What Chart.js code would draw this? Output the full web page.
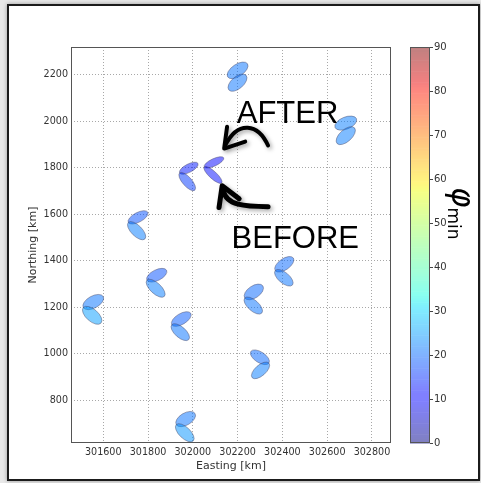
<!DOCTYPE html>
<html lang="en">
<head>
<meta charset="UTF-8">
<title>Splitting parameters map</title>
<script src="https://cdn.jsdelivr.net/npm/chart.js"></script>
<style>
    body {
        margin: 0;
        width: 481px;
        height: 483px;
        overflow: hidden;
        position: relative;
        background: #e8e8e8;
        font-family: 'DejaVu Sans', sans-serif;
    }

    #frame {
        position: absolute;
        left: 7px;
        top: 4px;
        width: 469px;
        height: 473px;
        border: 2px solid #1b1b1b;
        background: #fff;
        box-shadow: 0 0 4px rgba(0, 0, 0, 0.35);
    }

    #mapChart { position: absolute; left: 0; top: 0; }
    #barChart { position: absolute; left: 400px; top: 0; }

    #cbLabel {
        position: absolute;
        left: 478px;
        top: 187px;
        transform: rotate(90deg);
        transform-origin: 0 0;
        font-size: 31px;
        line-height: 30px;
        font-style: italic;
        white-space: nowrap;
        color: #000;
    }

    #cbLabel sub {
        font-size: 17px;
        line-height: 0;
        vertical-align: -4px;
        font-style: normal;
    }
</style>
</head>
<body>
<div id="frame"></div>
<canvas id="mapChart" width="400" height="483"></canvas>
<canvas id="barChart" width="81" height="483"></canvas>
<div id="cbLabel">φ<sub>min</sub></div>

<script>
    // each lobe runs from (E0,N0) to (E1,N1), widths in km, colour from phi
    const lobeE0 = [302156, 302161, 302635, 302644, 301941, 301941, 302051, 302051,
                    301712, 301712, 301795, 301795, 301511, 301511, 301906, 301906,
                    302232, 302232, 302368, 302368, 302340, 302340, 301926, 301926];
    const lobeN0 = [2190, 2134, 1973, 1904, 1777, 1777, 1803, 1803,
                    1564, 1564, 1316, 1316, 1198, 1198, 1124, 1124,
                    1239, 1239, 1357, 1357, 959, 959, 694, 694];
    const lobeE1 = [302244, 302238, 302731, 302722, 302023, 302009, 302138, 302129,
                    301799, 301786, 301883, 301873, 301600, 301590, 301991, 301982,
                    302313, 302308, 302449, 302445, 302259, 302265, 302010, 302002];
    const lobeN1 = [2247, 2197, 2010, 1971, 1818, 1703, 1842, 1734,
                    1608, 1493, 1358, 1246, 1245, 1131, 1173, 1060,
                    1291, 1174, 1411, 1295, 1009, 896, 742, 624];
    const lobeWidth = [54, 54, 54, 54, 37, 41, 33, 33,
                       43, 48, 48, 48, 54, 54, 48, 48,
                       54, 48, 50, 48, 48, 48, 54, 50];
    const lobePhi = [21, 21, 22, 22, 13, 16, 11, 12,
                     18, 22, 18, 22, 21, 25, 19, 21,
                     20, 21, 20, 21, 20, 22, 21, 24];

    const eastRange = [301456, 302885];
    const northRange = [615, 2319];
    const phiRange = [0, 90];
    const eastTicks = [301600, 301800, 302000, 302200, 302400, 302600, 302800];
    const northTicks = [800, 1000, 1200, 1400, 1600, 1800, 2000, 2200];
    const phiTicks = [0, 10, 20, 30, 40, 50, 60, 70, 80, 90];

    // annotation arrows: cubic curve (start, c1, c2, end) and head (arm, tip, arm)
    const afterCurveE = [302336, 302292, 302202, 302144];
    const afterCurveN = [1895, 1989, 2006, 1895];
    const afterHeadE = [302153, 302140, 302234];
    const afterHeadN = [1976, 1882, 1912];
    const beforeCurveE = [302336, 302234, 302149, 302135];
    const beforeCurveN = [1632, 1632, 1636, 1704];
    const beforeHeadE = [302117, 302131, 302207];
    const beforeHeadN = [1628, 1722, 1666];
    const labelText = ['AFTER', 'BEFORE'];
    const labelE = [302196, 302173];
    const labelN = [1993, 1455];

    // matplotlib jet segments
    const jetR = [[0, 0], [0.35, 0], [0.66, 1], [0.89, 1], [1, 0.5]];
    const jetG = [[0, 0], [0.125, 0], [0.375, 1], [0.64, 1], [0.91, 0], [1, 0]];
    const jetB = [[0, 0.5], [0.11, 1], [0.34, 1], [0.65, 0], [1, 0]];

    function seg(table, t) {
        for (let i = 1; i < table.length; i++) {
            if (t <= table[i][0]) {
                const a = table[i - 1], b = table[i];
                return a[1] + (b[1] - a[1]) * (t - a[0]) / (b[0] - a[0]);
            }
        }
        return table[table.length - 1][1];
    }

    function jet(t) {
        t = Math.max(0, Math.min(1, t));
        return [seg(jetR, t), seg(jetG, t), seg(jetB, t)].map(v => Math.round(v * 255));
    }

    function jetRgba(t, a) {
        const c = jet(t);
        return 'rgba(' + c[0] + ',' + c[1] + ',' + c[2] + ',' + a + ')';
    }

    // same colour pre-blended on white (for the colorbar strips)
    function jetOnWhite(t, a) {
        const c = jet(t).map(v => Math.round(v * a + 255 * (1 - a)));
        return 'rgb(' + c[0] + ',' + c[1] + ',' + c[2] + ')';
    }

    function fixedTicks(values) {
        return s => { s.ticks = values.map(v => ({value: v})); };
    }

    const lobePlugin = {
        id: 'lobes',
        beforeDatasetsDraw(chart) {
            const {ctx, chartArea: a, scales: {x, y}} = chart;
            ctx.save();
            ctx.beginPath();
            ctx.rect(a.left, a.top, a.width, a.height);
            ctx.clip();
            for (let i = 0; i < lobePhi.length; i++) {
                const x0 = x.getPixelForValue(lobeE0[i]), y0 = y.getPixelForValue(lobeN0[i]);
                const x1 = x.getPixelForValue(lobeE1[i]), y1 = y.getPixelForValue(lobeN1[i]);
                const len = Math.hypot(x1 - x0, y1 - y0);
                const w = x.getPixelForValue(eastRange[0] + lobeWidth[i]) - x.getPixelForValue(eastRange[0]);
                ctx.beginPath();
                ctx.ellipse((x0 + x1) / 2, (y0 + y1) / 2, len / 2, w / 2, Math.atan2(y1 - y0, x1 - x0), 0, Math.PI * 2);
                ctx.fillStyle = jetRgba(lobePhi[i] / phiRange[1], 0.5);
                ctx.fill();
                ctx.lineWidth = 1;
                ctx.strokeStyle = 'rgba(70,70,100,0.45)';
                ctx.stroke();
            }
            ctx.restore();
        },
        afterDatasetsDraw(chart) {
            const {ctx, chartArea: a, scales: {x, y}} = chart;
            ctx.save();
            ctx.strokeStyle = '#555';
            ctx.lineWidth = 1;
            ctx.strokeRect(a.left + 0.5, a.top + 0.5, a.width - 1, a.height - 1);

            const px = v => x.getPixelForValue(v);
            const py = v => y.getPixelForValue(v);

            ctx.shadowColor = 'rgba(0,0,0,0.35)';
            ctx.shadowBlur = 4;
            ctx.shadowOffsetX = 2;
            ctx.shadowOffsetY = 2;
            ctx.strokeStyle = '#000';
            ctx.fillStyle = '#000';
            ctx.lineCap = 'round';
            ctx.lineJoin = 'round';

            const arrows = [
                [afterCurveE, afterCurveN, afterHeadE, afterHeadN, 4],
                [beforeCurveE, beforeCurveN, beforeHeadE, beforeHeadN, 5]
            ];
            arrows.forEach(([cE, cN, hE, hN, lw]) => {
                ctx.lineWidth = lw;
                ctx.beginPath();
                ctx.moveTo(px(cE[0]), py(cN[0]));
                ctx.bezierCurveTo(px(cE[1]), py(cN[1]), px(cE[2]), py(cN[2]), px(cE[3]), py(cN[3]));
                ctx.stroke();
                ctx.beginPath();
                ctx.moveTo(px(hE[0]), py(hN[0]));
                ctx.lineTo(px(hE[1]), py(hN[1]));
                ctx.lineTo(px(hE[2]), py(hN[2]));
                ctx.stroke();
            });

            ctx.shadowColor = 'transparent';
            ctx.font = '31px "Liberation Sans", Arial, sans-serif';
            ctx.textAlign = 'left';
            ctx.textBaseline = 'alphabetic';
            labelText.forEach((t, i) => ctx.fillText(t, px(labelE[i]), py(labelN[i])));
            ctx.restore();
        }
    };

    const tickFont = {family: 'DejaVu Sans', size: 9.6};
    const titleFont = {family: 'DejaVu Sans', size: 11};

    new Chart(document.getElementById('mapChart'), {
        type: 'scatter',
        data: {datasets: []},
        plugins: [lobePlugin],
        options: {
            responsive: false,
            animation: false,
            layout: {padding: {left: 0, top: 47, right: 9, bottom: 0}},
            plugins: {legend: {display: false}, tooltip: {enabled: false}},
            scales: {
                x: {
                    type: 'linear',
                    min: eastRange[0],
                    max: eastRange[1],
                    afterBuildTicks: fixedTicks(eastTicks),
                    afterFit: s => { s.height = 40; },
                    ticks: {
                        autoSkip: false,
                        maxRotation: 0,
                        padding: 4,
                        color: '#333',
                        font: tickFont,
                        callback: v => String(v)
                    },
                    grid: {color: '#a8a8a8', drawTicks: false},
                    border: {display: false, dash: [1, 2]},
                    title: {display: true, text: 'Easting [km]', color: '#333', font: titleFont, padding: {top: 0, bottom: 10}}
                },
                y: {
                    type: 'linear',
                    min: northRange[0],
                    max: northRange[1],
                    afterBuildTicks: fixedTicks(northTicks),
                    afterFit: s => { s.width = 71; },
                    ticks: {
                        autoSkip: false,
                        padding: 3,
                        color: '#333',
                        font: tickFont,
                        callback: v => String(v)
                    },
                    grid: {color: '#a8a8a8', drawTicks: false},
                    border: {display: false, dash: [1, 2]},
                    title: {display: true, text: 'Northing [km]', color: '#333', font: titleFont, padding: {top: 27, bottom: 0}}
                }
            }
        }
    });

    // colorbar for phi_min
    const barPlugin = {
        id: 'phiBar',
        beforeDatasetsDraw(chart) {
            const {ctx, chartArea: a, scales: {y}} = chart;
            const step = 0.5;
            ctx.save();
            for (let v = phiRange[0]; v < phiRange[1]; v += step) {
                const top = y.getPixelForValue(v + step);
                const bot = y.getPixelForValue(v);
                ctx.fillStyle = jetOnWhite((v + step / 2) / phiRange[1], 0.5);
                ctx.fillRect(a.left, top, a.width, bot - top + 0.6);
            }
            ctx.strokeStyle = '#555';
            ctx.lineWidth = 1;
            ctx.strokeRect(a.left + 0.5, a.top + 0.5, a.width - 1, a.height - 1);
            ctx.restore();
        }
    };

    new Chart(document.getElementById('barChart'), {
        type: 'scatter',
        data: {datasets: []},
        plugins: [barPlugin],
        options: {
            responsive: false,
            animation: false,
            layout: {padding: {left: 10, top: 47, right: 0, bottom: 40}},
            plugins: {legend: {display: false}, tooltip: {enabled: false}},
            scales: {
                x: {type: 'linear', display: false, min: 0, max: 1},
                y: {
                    type: 'linear',
                    position: 'right',
                    min: phiRange[0],
                    max: phiRange[1],
                    afterBuildTicks: fixedTicks(phiTicks),
                    afterFit: s => { s.width = 51; },
                    ticks: {autoSkip: false, padding: 1, color: '#333', font: {family: 'DejaVu Sans', size: 10}},
                    grid: {drawOnChartArea: false, drawTicks: true, tickLength: 3, tickColor: '#444'},
                    border: {display: false}
                }
            }
        }
    });
</script>
</body>
</html>
